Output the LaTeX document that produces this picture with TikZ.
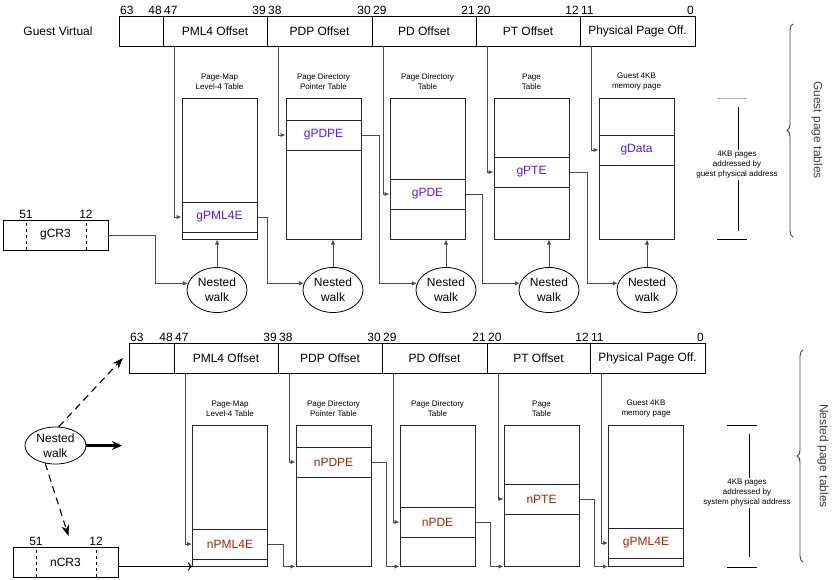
\documentclass[tikz,border=0pt]{standalone}
\usepackage{fontspec}
\setmainfont{Liberation Sans}
\usepackage{tikz}
\usetikzlibrary{arrows.meta, decorations.pathreplacing, positioning, shapes.geometric}
\definecolor{gblue}{RGB}{85,25,255}
\definecolor{nred}{RGB}{170,35,0}
\tikzstyle{field}=[rectangle, draw, line width=1pt, outer sep=0pt, minimum height=30pt, inner sep=0pt, font=\fontsize{12}{14}\selectfont]
\tikzstyle{ptable}=[rectangle, draw=black!85, line width=1pt, minimum width=75pt, minimum height=141pt, inner sep=0pt]
\tikzstyle{entry}=[rectangle, draw=black!85, line width=1pt, minimum width=75pt, minimum height=30pt, inner sep=0pt, font=\fontsize{12}{14}\selectfont]
\tikzstyle{gentry}=[entry, text=gblue]
\tikzstyle{nentry}=[entry, text=nred]
\tikzstyle{walk}=[ellipse, draw, line width=0.8pt, minimum width=60pt, minimum height=45pt, inner sep=0pt, align=center, font=\fontsize{12}{15}\selectfont]
\tikzstyle{caption}=[align=center, font=\fontsize{8}{10}\selectfont]
\tikzstyle{bits}=[font=\fontsize{12}{14}\selectfont, inner sep=1pt]
\tikzstyle{link}=[draw=black!70, line width=1pt, -{Latex[length=5pt,width=4.5pt]}]
\tikzstyle{openlink}=[line width=1pt, -{To[length=4pt]}]
\tikzstyle{divider}=[dashed, line width=0.6pt]
\tikzstyle{dasharrow}=[line width=1.1pt, dash pattern=on 7pt off 5pt, -{Stealth[length=11pt,width=8pt]}]
\tikzstyle{bigarrow}=[line width=2.2pt, -{Stealth[length=10pt,width=9pt]}]
\tikzstyle{brace}=[decorate, decoration={brace, amplitude=6pt}, line width=0.9pt, draw=black!75]
\tikzstyle{side}=[rotate=-90, text=black!75, font=\fontsize{12}{14}\selectfont]
\tikzset{lbit/.style={label={[bits, anchor=south west]north west:#1}},
         rbit/.style={label={[bits, anchor=south east]north east:#1}}}

\begin{document}
\begin{tikzpicture}[x=1pt, y=-1pt, node distance=4pt]
  \useasboundingbox (0,0) rectangle (834,579);

  % guest page tables
  \node[font=\fontsize{12}{14}\selectfont] (gvirt) at (58,31) {Guest Virtual};
  \node[field, minimum width=44pt, lbit=63, rbit=48] (gblank) at (141,31) {};
  \node[field, minimum width=104pt, right=0pt of gblank, lbit=47, rbit=39] (gpml4off) {PML4 Offset};
  \node[field, minimum width=105pt, right=0pt of gpml4off, lbit=38, rbit=30] (gpdpoff) {PDP Offset};
  \node[field, minimum width=104pt, right=0pt of gpdpoff, lbit=29, rbit=21] (gpdoff) {PD Offset};
  \node[field, minimum width=104pt, right=0pt of gpdoff, lbit=20, rbit=12] (gptoff) {PT Offset};
  \node[field, minimum width=115pt, right=0pt of gptoff, lbit=11, rbit=0] (gphysoff) {Physical Page Off.};

  \node[ptable] (gtab1) at (219.5,168.5) {};
  \node[ptable] (gtab2) at (323.5,168.5) {};
  \node[ptable] (gtab3) at (427.5,168.5) {};
  \node[ptable] (gtab4) at (531.5,168.5) {};
  \node[ptable] (gtab5) at (636.5,168.5) {};
  \node[caption, above=of gtab1] {Page-Map\\Level-4 Table};
  \node[caption, above=of gtab2] {Page Directory\\Pointer Table};
  \node[caption, above=of gtab3] {Page Directory\\Table};
  \node[caption, above=of gtab4] {Page\\Table};
  \node[caption, above=of gtab5] {Guest 4KB\\memory page};

  \node[gentry] (gpml4e) at (219.5,217) {gPML4E};
  \node[gentry] (gpdpe) at (323.5,135) {gPDPE};
  \node[gentry] (gpde) at (427.5,194) {gPDE};
  \node[gentry] (gpte) at (531.5,172) {gPTE};
  \node[gentry] (gdata) at (636.5,150) {gData};

  \draw[link] ([xshift=11pt]gpml4off.south west) |- (gpml4e.west);
  \draw[link] ([xshift=11pt]gpdpoff.south west) |- (gpdpe.west);
  \draw[link] ([xshift=11pt]gpdoff.south west) |- (gpde.west);
  \draw[link] ([xshift=11pt]gptoff.south west) |- (gpte.west);
  \draw[link] ([xshift=11pt]gphysoff.south west) |- (gdata.west);

  \node[field, minimum width=105pt] (gcr3) at (55.5,235) {gCR3};
  \draw[divider] ([xshift=23pt]gcr3.south west) -- ([xshift=23pt]gcr3.north west) node[bits, above] {51};
  \draw[divider] ([xshift=83pt]gcr3.south west) -- ([xshift=83pt]gcr3.north west) node[bits, above] {12};

  \node[walk] (gwalk1) at (217,290) {Nested\\walk};
  \node[walk] (gwalk2) at (333,290) {Nested\\walk};
  \node[walk] (gwalk3) at (446,290) {Nested\\walk};
  \node[walk] (gwalk4) at (549,290) {Nested\\walk};
  \node[walk] (gwalk5) at (647,290) {Nested\\walk};

  \draw[link] (gcr3.east) -- ++(47,0) |- (gwalk1.167);
  \draw[link] (gpml4e.east) -- ++(10,0) |- (gwalk2.167);
  \draw[link] (gpdpe.east) -- ++(18,0) |- (gwalk3.167);
  \draw[link] (gpde.east) -- ++(17,0) |- (gwalk4.167);
  \draw[link] (gpte.east) -- ++(18,0) |- (gwalk5.167);
  \draw[link] (gwalk1.north) -- (gwalk1.north |- gtab1.south);
  \draw[link] (gwalk2.north) -- (gwalk2.north |- gtab2.south);
  \draw[link] (gwalk3.north) -- (gwalk3.north |- gtab3.south);
  \draw[link] (gwalk4.north) -- (gwalk4.north |- gtab4.south);
  \draw[link] (gwalk5.north) -- (gwalk5.north |- gtab5.south);

  \draw[draw=black!30, line width=1pt] (717,98) -- (747,98);
  \draw[line width=1pt] (717,239) -- (747,239);
  \draw[line width=1pt] (738,107) -- (738,231);
  \node[caption, fill=white, inner sep=1pt] (gscale) at (737,165) {4KB pages\\addressed by\\guest physical address};
  \draw[brace] (793,237) -- (793,24);
  \node[side] (gside) at (817,130) {Guest page tables};

  % nested page tables
  \node[field, minimum width=45pt, lbit=63, rbit=48] (nblank) at (151.5,358) {};
  \node[field, minimum width=104pt, right=0pt of nblank, lbit=47, rbit=39] (npml4off) {PML4 Offset};
  \node[field, minimum width=104pt, right=0pt of npml4off, lbit=38, rbit=30] (npdpoff) {PDP Offset};
  \node[field, minimum width=105pt, right=0pt of npdpoff, lbit=29, rbit=21] (npdoff) {PD Offset};
  \node[field, minimum width=103pt, right=0pt of npdoff, lbit=20, rbit=12] (nptoff) {PT Offset};
  \node[field, minimum width=115pt, right=0pt of nptoff, lbit=11, rbit=0] (nphysoff) {Physical Page Off.};

  \node[ptable] (ntab1) at (230,495.5) {};
  \node[ptable] (ntab2) at (333.5,495.5) {};
  \node[ptable] (ntab3) at (437.5,495.5) {};
  \node[ptable] (ntab4) at (541.5,495.5) {};
  \node[ptable] (ntab5) at (646,495.5) {};
  \node[caption, above=of ntab1] {Page-Map\\Level-4 Table};
  \node[caption, above=of ntab2] {Page Directory\\Pointer Table};
  \node[caption, above=of ntab3] {Page Directory\\Table};
  \node[caption, above=of ntab4] {Page\\Table};
  \node[caption, above=of ntab5] {Guest 4KB\\memory page};

  \node[nentry] (npml4e) at (230,544) {nPML4E};
  \node[nentry] (npdpe) at (333.5,462) {nPDPE};
  \node[nentry] (npde) at (437.5,522) {nPDE};
  \node[nentry] (npte) at (541.5,499) {nPTE};
  \node[nentry] (ndata) at (646,543) {gPML4E};

  \draw[link] ([xshift=11pt]npml4off.south west) |- (npml4e.west);
  \draw[link] ([xshift=11pt]npdpoff.south west) |- (npdpe.west);
  \draw[link] ([xshift=11pt]npdoff.south west) |- (npde.west);
  \draw[link] ([xshift=11pt]nptoff.south west) |- (npte.west);
  \draw[link] ([xshift=11pt]nphysoff.south west) |- (ndata.west);

  \node[field, minimum width=105pt] (ncr3) at (65.5,562) {nCR3};
  \draw[divider] ([xshift=23pt]ncr3.south west) -- ([xshift=23pt]ncr3.north west) node[bits, above] {51};
  \draw[divider] ([xshift=83pt]ncr3.south west) -- ([xshift=83pt]ncr3.north west) node[bits, above] {12};

  \draw[openlink] (ncr3.east |- ntab1.south west) -- (ntab1.south west);
  \draw[link] (npml4e.east) -- ++(15,0) |- (ntab2.south west);
  \draw[link] (npdpe.east) -- ++(15,0) |- (ntab3.south west);
  \draw[link] (npde.east) -- ++(15,0) |- (ntab4.south west);
  \draw[link] (npte.east) -- ++(15,0) |- (ntab5.south west);

  \node[walk, minimum width=61pt, minimum height=37pt] (nwalk) at (55.5,445.5) {Nested\\walk};
  \coordinate (walkto) at (122,445.5);
  \draw[bigarrow] (nwalk.east) -- (walkto);
  \draw[dasharrow] (nwalk.80) -- ([xshift=-6pt]nblank.west);
  \draw[dasharrow] (nwalk.240) -- ([shift={(3pt,11pt)}]ncr3.north);

  \draw[line width=1pt] (727,425) -- (757,425);
  \draw[line width=1pt] (727,567) -- (757,567);
  \draw[line width=1pt] (749,434) -- (749,557);
  \node[caption, fill=white, inner sep=1pt] (nscale) at (747,493) {4KB pages\\addressed by\\system physical address};
  \draw[brace] (803,562) -- (803,350);
  \node[side] (nside) at (823,456) {Nested page tables};
\end{tikzpicture}
\end{document}
